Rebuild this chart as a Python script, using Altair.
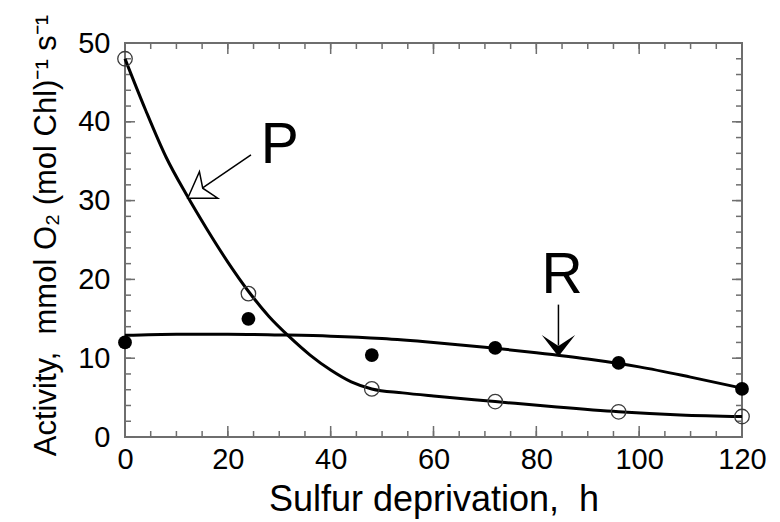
import altair as alt
import pandas as pd

# ---- data ----
hours = [0, 24, 48, 72, 96, 120]
p_obs = [48.0, 18.2, 6.1, 4.5, 3.2, 2.6]      # open circles (P)
r_obs = [12.0, 15.0, 10.4, 11.3, 9.4, 6.1]    # filled circles (R)

p_curve_x = [0, 4, 8, 12, 16, 20, 24, 28, 32, 36, 40, 44, 48, 54, 60, 72, 84, 96, 108, 120]
p_curve_y = [48, 41.5, 35.5, 30.7, 26.3, 22.2, 18.5, 15.3, 12.7, 10.4, 8.5, 7.0, 6.1, 5.6, 5.2, 4.5, 3.8, 3.2, 2.8, 2.6]
r_curve_x = [0, 10, 20, 30, 40, 50, 60, 70, 80, 90, 100, 110, 120]
r_curve_y = [12.9, 13.05, 13.05, 12.95, 12.8, 12.5, 12.0, 11.4, 10.7, 9.9, 8.9, 7.6, 6.2]

x_major = [0, 20, 40, 60, 80, 100, 120]
x_minor = [0, 5, 10, 15, 20, 25, 30, 35, 40, 45, 50, 55, 60, 65, 70, 75, 80, 85, 90, 95, 100, 105, 110, 115, 120]
y_major = [0, 10, 20, 30, 40, 50]
y_minor = [0, 2, 4, 6, 8, 10, 12, 14, 16, 18, 20, 22, 24, 26, 28, 30, 32, 34, 36, 38, 40, 42, 44, 46, 48, 50]

# annotation anchors (data coordinates)
p_label = {"x": 30.1, "y": 34.8, "t": "P"}
r_label = {"x": 85.0, "y": 18.3, "t": "R"}
p_shaft_x = [24.5, 15.1]
p_shaft_y = [35.8, 31.6]
p_tip = {"x": 12.2, "y": 30.3}
r_shaft_x = [84.3, 84.3]
r_shaft_y = [16.8, 11.6]
r_tip = {"x": 84.3, "y": 10.2}

W, H = 617, 394
FONT = "Liberation Sans"
AX = "#6e6e6e"

xscale = alt.Scale(domain=[0, 120], nice=False, zero=False)
yscale = alt.Scale(domain=[0, 50], nice=False, zero=False)

x_axis = alt.Axis(values=x_major, title="Sulfur deprivation,\u00a0 h", labelFlush=False,
                  labelPadding=31, labelBaseline="alphabetic", tickSize=0, ticks=False,
                  domain=False, grid=False, titleX=W / 2, titleY=73,
                  titleBaseline="alphabetic", titleAlign="center",
                  labelFont=FONT, labelFontSize=29, labelColor="black",
                  titleFont=FONT, titleFontSize=36, titleFontWeight="normal", titleColor="black")
y_axis = alt.Axis(values=y_major, title="Activity,\u00a0 mmol O\u2082 (mol Chl)\u207b\u00b9 s\u207b\u00b9",
                  labelPadding=15, labelAlign="right", labelBaseline="middle", labelFlush=False,
                  tickSize=0, ticks=False, domain=False, grid=False,
                  titleAngle=270, titleX=-70, titleY=192, titleBaseline="alphabetic",
                  titleAlign="center",
                  labelFont=FONT, labelFontSize=29, labelColor="black",
                  titleFont=FONT, titleFontSize=31, titleFontWeight="normal", titleColor="black")

X = alt.X("x:Q", scale=xscale, axis=x_axis)
Y = alt.Y("y:Q", scale=yscale, axis=y_axis)

p_pts = pd.DataFrame({"x": hours, "y": p_obs})
r_pts = pd.DataFrame({"x": hours, "y": r_obs})
p_line = pd.DataFrame({"x": p_curve_x, "y": p_curve_y})
r_line = pd.DataFrame({"x": r_curve_x, "y": r_curve_y})

line_p = alt.Chart(p_line).mark_line(color="black", strokeWidth=3, interpolate="monotone").encode(x=X, y=Y)
line_r = alt.Chart(r_line).mark_line(color="black", strokeWidth=3, interpolate="monotone").encode(x=X, y=Y)

pts_p = alt.Chart(p_pts).mark_point(shape="circle", filled=False, size=210, color="#3a3a3a",
                                    strokeWidth=1.3, opacity=1).encode(x=X, y=Y)
pts_r = alt.Chart(r_pts).mark_point(shape="circle", filled=True, size=190, color="black",
                                    opacity=1).encode(x=X, y=Y)

# ticks (inward, on all four sides)
xt_min = pd.DataFrame({"x": x_minor})
xt_maj = pd.DataFrame({"x": x_major})
yt_min = pd.DataFrame({"y": y_minor})
yt_maj = pd.DataFrame({"y": y_major})

def xticks(df, length):
    bottom = alt.Chart(df).mark_rule(color=AX, strokeWidth=1.5).encode(
        x=X, y=alt.value(H), y2=alt.value(H - length))
    top = alt.Chart(df).mark_rule(color=AX, strokeWidth=1.5).encode(
        x=X, y=alt.value(0), y2=alt.value(length))
    return [bottom, top]

def yticks(df, length):
    left = alt.Chart(df).mark_rule(color=AX, strokeWidth=1.5).encode(
        y=Y, x=alt.value(0), x2=alt.value(length))
    right = alt.Chart(df).mark_rule(color=AX, strokeWidth=1.5).encode(
        y=Y, x=alt.value(W), x2=alt.value(W - length))
    return [left, right]

tick_layers = xticks(xt_min, 6) + xticks(xt_maj, 11) + yticks(yt_min, 6) + yticks(yt_maj, 10)

# annotations
lab_df = pd.DataFrame([p_label, r_label])
labels = alt.Chart(lab_df).mark_text(font=FONT, fontSize=57, align="center",
                                     baseline="alphabetic", color="black").encode(x=X, y=Y, text="t:N")

p_shaft = alt.Chart(pd.DataFrame({"x": p_shaft_x, "y": p_shaft_y})).mark_line(
    color="black", strokeWidth=1.5).encode(x=X, y=Y)
r_shaft = alt.Chart(pd.DataFrame({"x": r_shaft_x, "y": r_shaft_y})).mark_line(
    color="black", strokeWidth=1.5).encode(x=X, y=Y)

p_head = alt.Chart(pd.DataFrame([p_tip])).mark_point(
    shape="M0,0 L0.78,-1.77 L1,-0.67 L2,0 Z", size=900, filled=True, fill="white",
    stroke="black", strokeWidth=1.5, opacity=1, fillOpacity=1).encode(x=X, y=Y)
r_head = alt.Chart(pd.DataFrame([r_tip])).mark_point(
    shape="M0,0 L-1,-1.3 L0,-0.64 L1,-1.3 Z", size=1115, filled=True, color="black",
    opacity=1).encode(x=X, y=Y)

chart = alt.layer(
    *tick_layers, line_p, line_r, pts_p, pts_r, p_shaft, r_shaft, p_head, r_head, labels
).properties(
    width=W, height=H,
    background="white",
    autosize=alt.AutoSizeParams(type="none"),
    padding={"left": 117, "top": 35, "right": 29, "bottom": 82},
).configure_view(
    stroke=AX, strokeWidth=2
)

chart.save("out.html", embed_options={"renderer": "svg", "actions": False})
